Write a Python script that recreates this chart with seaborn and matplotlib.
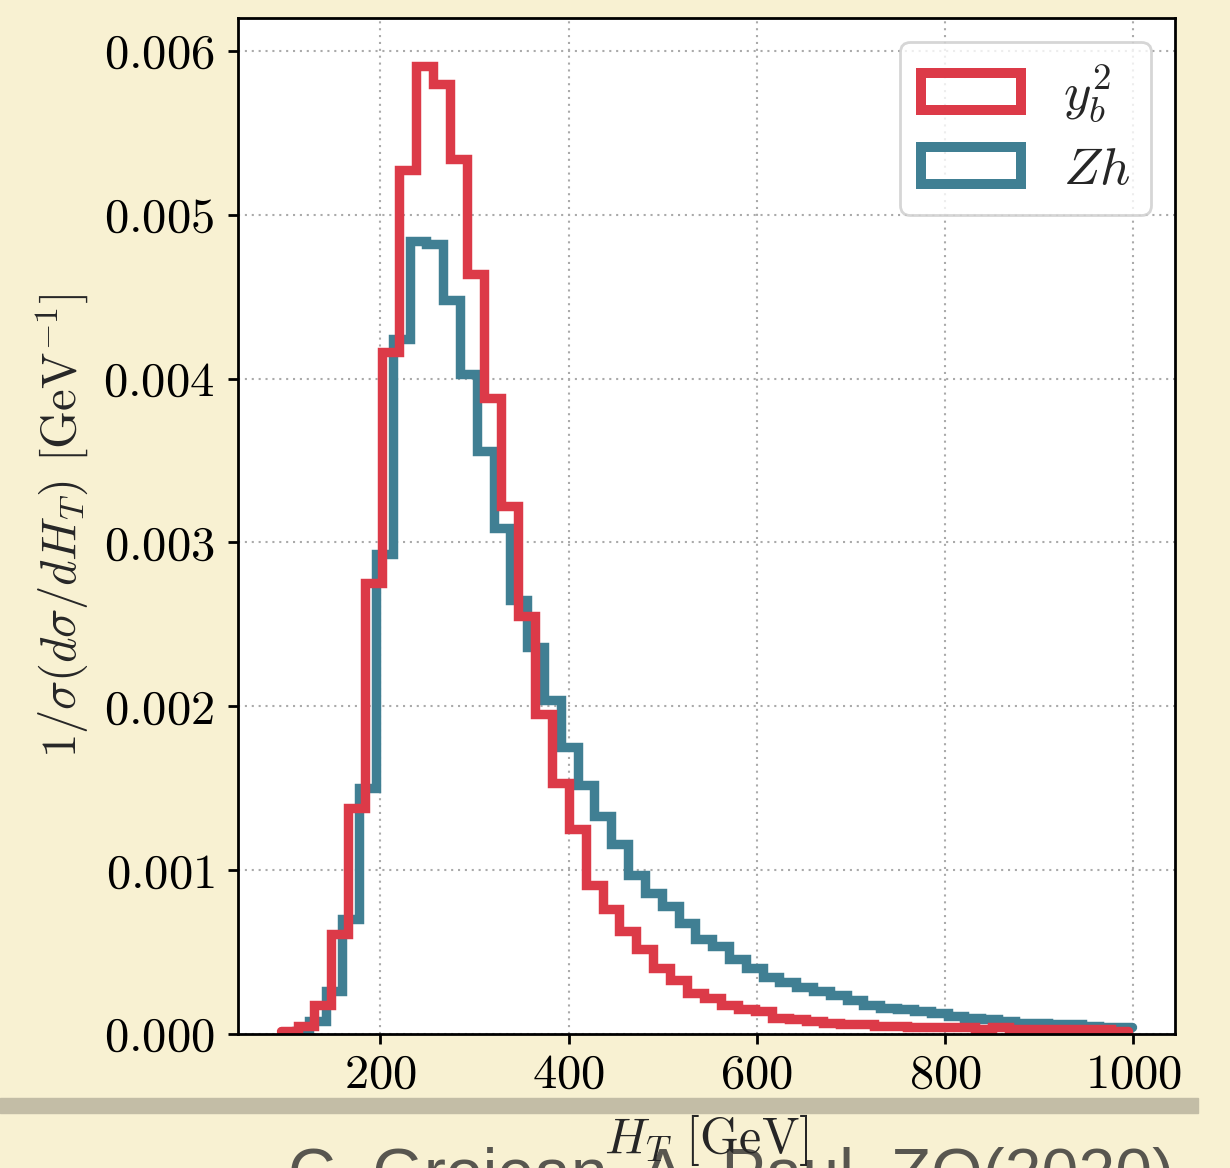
import matplotlib
matplotlib.use("Agg")
import matplotlib.pyplot as plt
from matplotlib.patches import Patch, Rectangle
import numpy as np
import pandas as pd
import seaborn as sns

# each sample is binned over its own H_T range, 50 bins
yb_range = (94, 994)
zh_range = (106, 999)
n_bins = 50

# normalised distributions 1/sigma dsigma/dH_T [GeV^-1]
yb_vals = [0.00002, 0.00005, 0.00018, 0.00061, 0.00138, 0.00275, 0.00416, 0.00527, 0.00591, 0.00580,
           0.00534, 0.00464, 0.00388, 0.00322, 0.00255, 0.00195, 0.00153, 0.00125, 0.00091, 0.00076,
           0.00063, 0.00052, 0.00040, 0.00033, 0.00025, 0.00022, 0.00018, 0.00015, 0.00014, 0.00010,
           0.00009, 0.00008, 0.00007, 0.00006, 0.00006, 0.00005, 0.00005, 0.00004, 0.00004, 0.00004,
           0.00004, 0.00003, 0.00004, 0.00003, 0.00003, 0.00003, 0.00003, 0.00003, 0.00003, 0.00002]
zh_vals = [0.00002, 0.00008, 0.00026, 0.00070, 0.00150, 0.00293, 0.00424, 0.00484, 0.00482, 0.00448,
           0.00403, 0.00356, 0.00309, 0.00265, 0.00236, 0.00204, 0.00175, 0.00152, 0.00133, 0.00116,
           0.00097, 0.00086, 0.00078, 0.00068, 0.00058, 0.00054, 0.00046, 0.00040, 0.00035, 0.00032,
           0.00029, 0.00026, 0.00024, 0.00021, 0.00018, 0.00016, 0.00015, 0.00014, 0.00013, 0.00011,
           0.00010, 0.00009, 0.00008, 0.00007, 0.00007, 0.00006, 0.00006, 0.00005, 0.00004, 0.00004]

labels = [r"$y_b^2$", r"$Zh$"]
RED = "#dc3a48"
TEAL = "#407f93"
CREAM = "#f8f1d2"
LW = 6.8

sns.set_theme(style="white")
plt.rcParams.update({
    "font.family": "serif",
    "font.serif": ["cmr10", "DejaVu Serif"],
    "mathtext.fontset": "cm",
    "axes.formatter.use_mathtext": True,
    "axes.unicode_minus": False,
})


def hist_frame(lo, hi, vals):
    edges = np.linspace(lo, hi, n_bins + 1)
    centers = 0.5 * (edges[:-1] + edges[1:])
    return edges.tolist(), pd.DataFrame({"ht": centers, "w": vals})


fig, ax = plt.subplots(figsize=(12.3, 11.68), dpi=100)
fig.patch.set_facecolor(CREAM)
ax.set_facecolor("white")
fig.subplots_adjust(left=0.1935, right=0.9553, bottom=0.1147, top=0.9846)

zh_edges, zh_df = hist_frame(*zh_range, zh_vals)
yb_edges, yb_df = hist_frame(*yb_range, yb_vals)
step_kw = dict(element="step", fill=False, linewidth=LW, solid_joinstyle="miter")
sns.histplot(data=zh_df, x="ht", weights="w", bins=zh_edges, color=TEAL, ax=ax, **step_kw)
sns.histplot(data=yb_df, x="ht", weights="w", bins=yb_edges, color=RED, ax=ax, **step_kw)

ax.set_xlim(48.75, 1044.25)
ax.set_ylim(0, 0.0062)
ax.set_xticks([200, 400, 600, 800, 1000])
ax.set_yticks(np.arange(0, 0.0061, 0.001))
ax.grid(True, color="#aaaaaa", linestyle=(0, (1, 2.3)), linewidth=1.5)
ax.set_axisbelow(True)
for sp in ax.spines.values():
    sp.set_visible(True)
    sp.set_color("black")
    sp.set_linewidth(2)
ax.tick_params(axis="both", direction="out", length=7, width=2, labelsize=35, colors="black",
               bottom=True, left=True)
ax.tick_params(axis="x", pad=7)
ax.tick_params(axis="y", pad=10)

ax.set_xlabel(r"$H_T$ [GeV]", fontsize=36, labelpad=10)
ax.set_ylabel(r"$1/\sigma(d\sigma/dH_T)$ [GeV$^{-1}$]", fontsize=35, labelpad=9)

handles = [Patch(facecolor="none", edgecolor=RED, linewidth=7.2, label=labels[0]),
           Patch(facecolor="none", edgecolor=TEAL, linewidth=7.2, label=labels[1])]
leg = ax.legend(handles=handles, loc="upper right", fontsize=38, fancybox=True,
                framealpha=0.8, edgecolor="#cccccc", handlelength=1.9,
                labelspacing=0.42, borderaxespad=0.45)
leg.get_frame().set_linewidth(2)

# slide decoration around the figure
fig.add_artist(Rectangle((0, 1 - 1113 / 1168), 1198 / 1230, 15 / 1168,
                         transform=fig.transFigure, color="#c3bda6", zorder=-1))
fig.text(288 / 1230, 1 - 1195 / 1168, "C. Grojean, A. Paul, ZQ(2020)", fontsize=47.6,
         family="Liberation Sans", color="#58564f", va="baseline", zorder=-1)

fig.savefig("out.png", dpi=100, facecolor=fig.get_facecolor())
plt.close(fig)
